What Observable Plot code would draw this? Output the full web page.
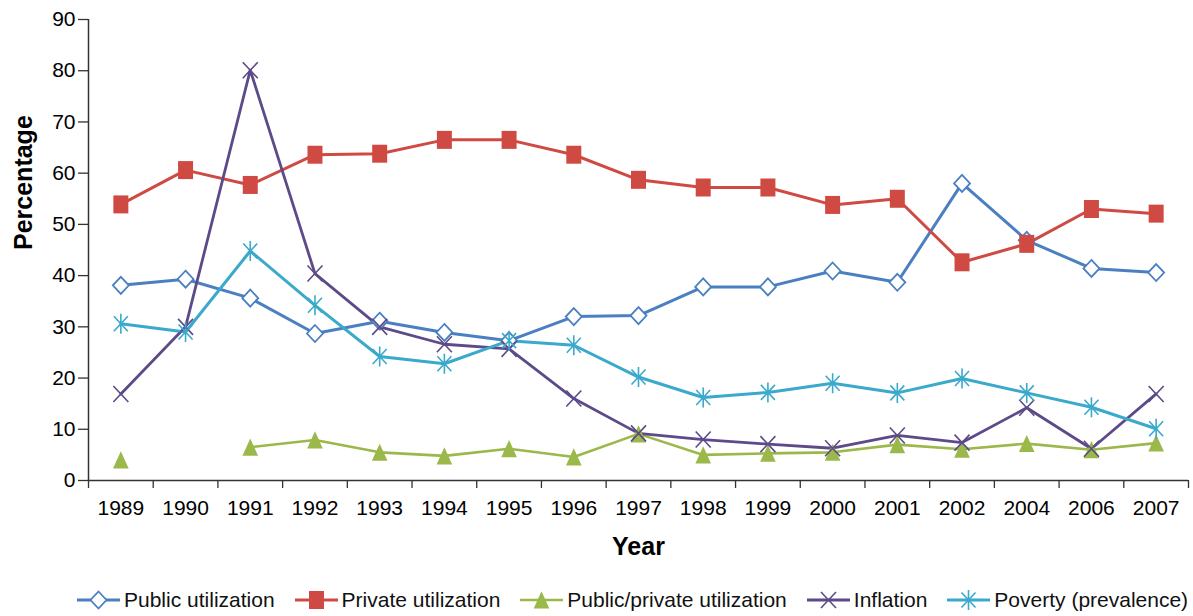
<!DOCTYPE html>
<html>
<head>
<meta charset="utf-8">
<script src="https://cdn.jsdelivr.net/npm/d3@7"></script>
<script src="https://cdn.jsdelivr.net/npm/@observablehq/plot@0.6"></script>
<style>
  body { margin: 0; background: #fff; font-family: "Liberation Sans", Arial, sans-serif; }
  #chart svg { display: block; }
  #legend { display: flex; align-items: center; height: 40px; padding-left: 77px; gap: 20px; font-size: 21px; color: #111; white-space: nowrap; }
  #legend .item { display: flex; align-items: center; }
  #legend .item svg { margin-right: 4px; display: block; }
</style>
</head>
<body>
<div id="chart"></div>
<div id="legend"></div>
<script>
// ---- data ----
const years = ["1989","1990","1991","1992","1993","1994","1995","1996","1997","1998","1999","2000","2001","2002","2004","2006","2007"];
const publicUtilization  = [38.1, 39.3, 35.6, 28.7, 31.1, 28.9, 27.3, 32.0, 32.2, 37.8, 37.8, 40.9, 38.7, 58.0, 46.9, 41.4, 40.6];
const privateUtilization = [53.9, 60.6, 57.7, 63.6, 63.8, 66.5, 66.5, 63.6, 58.7, 57.2, 57.2, 53.8, 55.0, 42.6, 46.2, 53.0, 52.1];
const publicPrivateUtilization = [4.0, null, 6.5, 7.9, 5.5, 4.8, 6.2, 4.6, 9.1, 5.0, 5.3, 5.5, 7.0, 6.1, 7.2, 6.0, 7.3];
const inflation = [16.9, 30.0, 80.1, 40.4, 30.0, 26.6, 25.7, 16.0, 9.2, 8.0, 7.1, 6.3, 8.8, 7.4, 14.2, 6.2, 16.9];
const poverty   = [30.6, 29.0, 44.8, 34.2, 24.2, 22.8, 27.3, 26.4, 20.2, 16.2, 17.2, 19.0, 17.1, 19.9, 17.1, 14.3, 10.1];
const yTicks = [0, 10, 20, 30, 40, 50, 60, 70, 80, 90];
const seriesNames = ["Public utilization", "Private utilization", "Public/private utilization", "Inflation", "Poverty (prevalence)"];
const seriesValues = [publicUtilization, privateUtilization, publicPrivateUtilization, inflation, poverty];

// ---- styles ----
const colors = ["#4a7fc1", "#d04a44", "#9bb84a", "#5d4a88", "#3aa9cb"];
const lineWidths = [3, 3, 2.6, 2.8, 3];
const symSquare = {draw(c) { c.rect(-7.5, -9, 15, 18); }};
const symDiamond = {draw(c) { c.moveTo(0, -8.5); c.lineTo(8, 0); c.lineTo(0, 8.5); c.lineTo(-8, 0); c.closePath(); }};
const symTriangle = {draw(c) { c.moveTo(0, -8.7); c.lineTo(7.8, 8.5); c.lineTo(-7.8, 8.5); c.closePath(); }};
const symTimes = {draw(c) { c.moveTo(-7.5, -8); c.lineTo(7.5, 8); c.moveTo(7.5, -8); c.lineTo(-7.5, 8); }};
const symAsterisk = {draw(c) { c.moveTo(0, -10); c.lineTo(0, 10); c.moveTo(-7, -7.5); c.lineTo(7, 7.5); c.moveTo(7, -7.5); c.lineTo(-7, 7.5); }};
const symbols = [symDiamond, symSquare, symTriangle, symTimes, symAsterisk];
const symFill = ["white", colors[1], colors[2], "none", "none"];
const symStroke = [colors[0], "none", "none", colors[3], colors[4]];
const symStrokeWidth = [1.8, 0, 0, 1.6, 1.6];

const rows = seriesNames.map((name, s) => years.map((year, i) => ({i, year, value: seriesValues[s][i], series: name})));

const marks = [
  Plot.ruleX([-0.5], {y1: 0, y2: 90, stroke: "#333", strokeWidth: 1.5}),
  Plot.ruleY([0], {stroke: "#333", strokeWidth: 1.5}),
  Plot.axisY({ticks: yTicks, tickSize: 10, tickPadding: 3, fontSize: 21, label: null, stroke: "#333", strokeWidth: 1.3, fill: "#000"}),
  Plot.axisX({ticks: d3.range(-0.5, years.length), tickSize: 8, tickFormat: () => "", label: null, stroke: "#333", strokeWidth: 1.3}),
  Plot.axisX({ticks: d3.range(years.length), tickSize: 0, tickPadding: 20, tickFormat: i => years[i], fontSize: 21, label: null, fill: "#000"}),
  Plot.text(["Percentage"], {frameAnchor: "left", rotate: -90, dx: -65, fontSize: 25, fontWeight: "bold", fill: "#000"}),
  Plot.text(["Year"], {frameAnchor: "bottom", dy: 74, fontSize: 25, fontWeight: "bold", fill: "#000"})
];
seriesNames.forEach((name, s) => {
  marks.push(Plot.line(rows[s], {x: "i", y: "value", stroke: colors[s], strokeWidth: lineWidths[s]}));
});
seriesNames.forEach((name, s) => {
  marks.push(Plot.dot(rows[s].filter(d => d.value != null), {x: "i", y: "value", symbol: () => symbols[s], r: 8,
    fill: symFill[s], stroke: symStroke[s], strokeWidth: symStrokeWidth[s]}));
});

const chart = Plot.plot({
  width: 1193,
  height: 580,
  marginLeft: 88,
  marginRight: 5,
  marginTop: 19,
  marginBottom: 100,
  style: {fontFamily: '"Liberation Sans", Arial, sans-serif', fontSize: "21px", color: "#111", background: "white"},
  x: {type: "linear", domain: [-0.5, years.length - 0.5], axis: null},
  y: {domain: [0, 90], axis: null},
  symbol: {type: "identity"},
  marks
});
document.getElementById("chart").appendChild(chart);

// ---- legend ----
const legend = d3.select("#legend");
seriesNames.forEach((name, s) => {
  const item = legend.append("div").attr("class", "item");
  const sw = item.append("svg").attr("width", 43).attr("height", 24);
  sw.append("line").attr("x1", 0).attr("x2", 43).attr("y1", 12).attr("y2", 12)
    .attr("stroke", colors[s]).attr("stroke-width", lineWidths[s]);
  const p = d3.path();
  symbols[s].draw(p, 0);
  sw.append("path").attr("d", p.toString()).attr("transform", "translate(21.5,12)")
    .attr("fill", symFill[s]).attr("stroke", symStroke[s]).attr("stroke-width", symStrokeWidth[s]);
  item.append("span").text(name);
});
</script>
</body>
</html>
